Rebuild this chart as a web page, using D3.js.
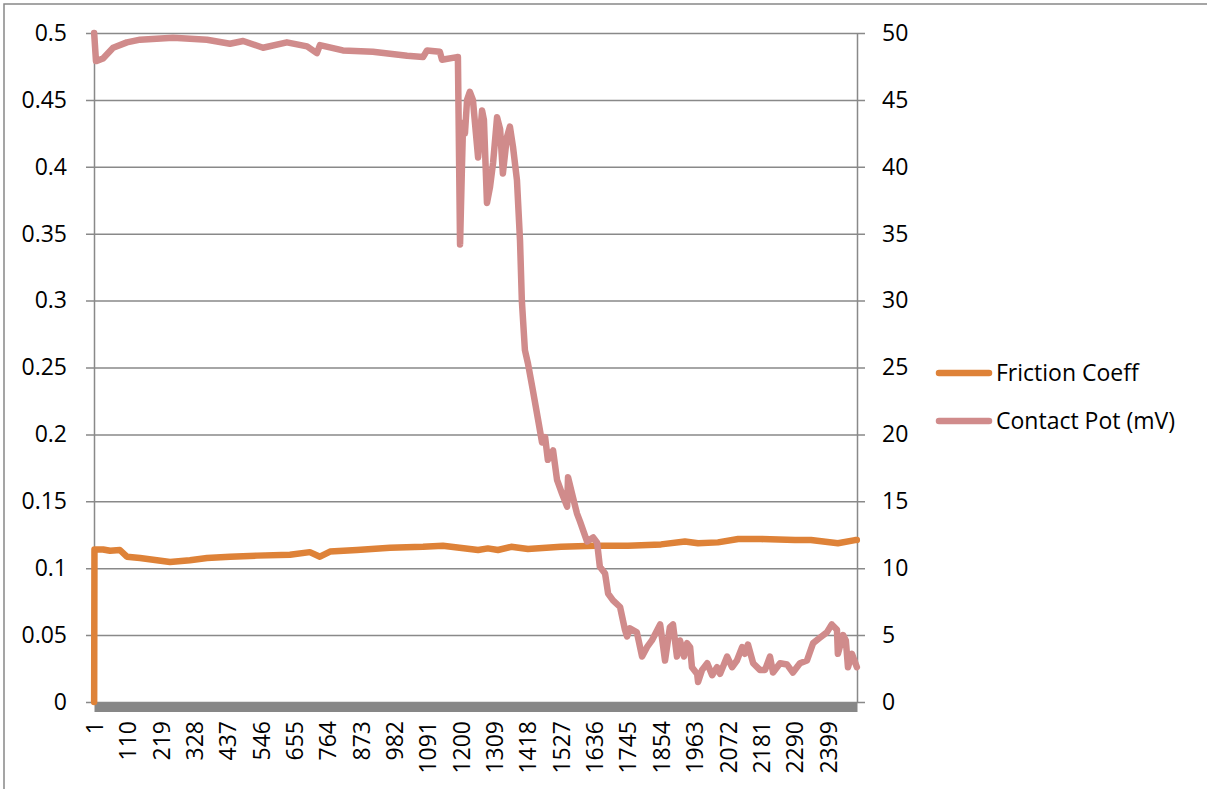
<!DOCTYPE html>
<html>
<head>
<meta charset="utf-8">
<script src="https://cdn.jsdelivr.net/npm/d3@7"></script>
<style>
  body { margin: 0; background: #fff; }
  text { font-family: "Open Sans", sans-serif; font-size: 23px; fill: #000; }
</style>
</head>
<body>
<script>
// number of samples along the x axis
var N = 2494;

// x tick labels (every 109 samples)
var xTicks = [1, 110, 219, 328, 437, 546, 655, 764, 873, 982, 1091, 1200, 1309, 1418, 1527, 1636, 1745, 1854, 1963, 2072, 2181, 2290, 2399];
var leftTicks = [0, 0.05, 0.1, 0.15, 0.2, 0.25, 0.3, 0.35, 0.4, 0.45, 0.5];
var rightTicks = [0, 5, 10, 15, 20, 25, 30, 35, 40, 45, 50];

var seriesNames = ["Friction Coeff", "Contact Pot (mV)"];

// friction coefficient (sample index, value)
var frictionIdx = [1, 2, 30, 53, 85, 108, 151, 206, 249, 314, 370, 445, 533, 641, 706, 739, 772, 860, 968, 1076, 1141, 1229, 1256, 1288, 1321, 1364, 1419, 1527, 1638, 1746, 1854, 1932, 1975, 2040, 2106, 2181, 2292, 2344, 2432, 2488, 2494];
var frictionVal = [0, 0.114, 0.114, 0.113, 0.1136, 0.1086, 0.1076, 0.106, 0.1047, 0.106, 0.1076, 0.1086, 0.1094, 0.110, 0.112, 0.1086, 0.1124, 0.1136, 0.1153, 0.116, 0.1168, 0.1143, 0.1136, 0.1148, 0.1136, 0.116, 0.1143, 0.116, 0.1168, 0.1168, 0.1178, 0.120, 0.1186, 0.1193, 0.1218, 0.1218, 0.121, 0.121, 0.1186, 0.121, 0.121];

// contact potential (mV) (sample index, value)
var potIdx = [1, 7, 30, 63, 108, 151, 259, 370, 445, 488, 553, 631, 697, 729, 739, 814, 912, 1024, 1076, 1089, 1131, 1138, 1187, 1190,
  1197, 1203, 1207, 1213, 1220, 1229, 1239, 1256, 1269, 1275, 1285, 1295, 1305, 1318, 1328, 1337, 1350, 1360, 1370, 1383, 1393,
  1399, 1409, 1419, 1435, 1452, 1465, 1475, 1484, 1501, 1514, 1530, 1547, 1550, 1566, 1579, 1589, 1612, 1632, 1645, 1654, 1671,
  1681, 1697, 1720, 1736, 1743, 1752, 1775, 1792, 1808, 1824, 1851, 1867, 1883, 1893, 1906, 1916, 1929, 1939, 1949, 1955, 1972,
  1975, 1988, 2005, 2021, 2037, 2047, 2070, 2086, 2102, 2119, 2128, 2138, 2155, 2177, 2194, 2210, 2220, 2243, 2266, 2285, 2308,
  2331, 2351, 2373, 2396, 2412, 2429, 2432, 2449, 2458, 2465, 2478, 2494];
var potVal = [50, 47.9, 48.1, 48.9, 49.3, 49.5, 49.65, 49.5, 49.2, 49.4, 48.9, 49.3, 49.0, 48.5, 49.1, 48.7, 48.6, 48.3, 48.2, 48.7, 48.6, 48.0, 48.2, 48.2,
  34.2, 39.8, 43.3, 42.5, 45.0, 45.6, 45.0, 40.7, 44.2, 43.5, 37.3, 38.5, 40.3, 43.7, 42.8, 39.5, 42.2, 43.0, 41.5, 39.0, 34.5,
  30.0, 26.3, 25.3, 23.3, 21.1, 19.4, 19.8, 18.1, 18.8, 16.6, 15.6, 14.6, 16.8, 15.3, 14.1, 13.5, 12.0, 12.3, 11.9, 10.1, 9.6,
  8.1, 7.6, 7.1, 5.4, 4.9, 5.5, 5.2, 3.4, 4.1, 4.6, 5.8, 3.1, 5.6, 5.8, 3.4, 4.6, 3.4, 4.4, 4.1, 2.6, 2.1,
  1.5, 2.4, 2.9, 2.0, 2.6, 2.1, 3.4, 2.6, 3.1, 4.1, 3.6, 4.3, 2.9, 2.4, 2.4, 3.4, 2.2, 2.9, 2.8, 2.2, 2.9,
  3.1, 4.4, 4.8, 5.2, 5.8, 5.4, 3.6, 5.0, 4.6, 2.6, 3.6, 2.6];

var colors = ["#de8238", "#d08b8b"];
var gridColor = "#898989";

var margin = { top: 33, right: 350, bottom: 87, left: 94 },
  width = 857 - margin.left,
  height = 702 - margin.top;

var svg = d3.select("body").append("svg")
  .attr("width", 1207)
  .attr("height", 789);

// chart border
svg.append("rect")
  .attr("x", 4).attr("y", 4)
  .attr("width", 1220).attr("height", 800)
  .attr("fill", "#fff")
  .attr("stroke", "#888").attr("stroke-width", 1.5);

var g = svg.append("g")
  .attr("transform", "translate(" + margin.left + "," + margin.top + ")");

var x = d3.scaleLinear().domain([0.5, N + 0.5]).range([0, width]);
var yL = d3.scaleLinear().domain([0, 0.5]).range([height, 0]);
var yR = d3.scaleLinear().domain([0, 50]).range([height, 0]);

// gridlines (with the little outside ticks on both sides)
g.append("g")
  .attr("transform", "translate(-8,0)")
  .call(d3.axisRight(yL).tickValues(leftTicks).tickSize(width + 16).tickFormat(""))
  .call(function (s) { s.select(".domain").remove(); })
  .selectAll("line")
  .attr("stroke", gridColor).attr("stroke-width", 1.5);

// left axis
var axL = g.append("g")
  .call(d3.axisLeft(yL).tickValues(leftTicks).tickSize(0).tickSizeOuter(0).tickPadding(27)
    .tickFormat(function (d) { return String(+d.toFixed(2)); }));
axL.select(".domain").attr("stroke", gridColor).attr("stroke-width", 1.5);
axL.selectAll("text").style("font-size", "23px").style("font-family", "'Open Sans', sans-serif");

// right axis
var axR = g.append("g")
  .attr("transform", "translate(" + width + ",0)")
  .call(d3.axisRight(yR).tickValues(rightTicks).tickSize(0).tickSizeOuter(0).tickPadding(25));
axR.select(".domain").attr("stroke", gridColor).attr("stroke-width", 1.5);
axR.selectAll("text").style("font-size", "23px").style("font-family", "'Open Sans', sans-serif");

// x axis: thick grey base line + rotated labels
var axX = g.append("g")
  .attr("transform", "translate(0," + height + ")")
  .call(d3.axisBottom(x).tickValues(xTicks).tickSize(0).tickSizeOuter(0).tickFormat(d3.format("d")));
axX.select(".domain")
  .attr("stroke", "#878787").attr("stroke-width", 9)
  .attr("transform", "translate(0,5)");
axX.selectAll("text")
  .style("font-size", "23px").style("font-family", "'Open Sans', sans-serif")
  .attr("text-anchor", "end")
  .attr("transform", "rotate(-90)")
  .attr("x", -19)
  .attr("y", 0)
  .attr("dy", "0.36em");

// series lines
var lineL = d3.line()
  .x(function (d) { return x(d[0]); })
  .y(function (d) { return yL(d[1]); });
var lineR = d3.line()
  .x(function (d) { return x(d[0]); })
  .y(function (d) { return yR(d[1]); });

g.append("path")
  .datum(d3.zip(frictionIdx, frictionVal))
  .attr("fill", "none")
  .attr("stroke", colors[0])
  .attr("stroke-width", 6.5)
  .attr("stroke-linejoin", "round")
  .attr("stroke-linecap", "round")
  .attr("d", lineL);

g.append("path")
  .datum(d3.zip(potIdx, potVal))
  .attr("fill", "none")
  .attr("stroke", colors[1])
  .attr("stroke-width", 6.5)
  .attr("stroke-linejoin", "round")
  .attr("stroke-linecap", "round")
  .attr("d", lineR);

// legend
var legend = svg.append("g")
  .attr("transform", "translate(937,373)");

var item = legend.selectAll("g")
  .data(seriesNames)
  .enter().append("g")
  .attr("transform", function (d, i) { return "translate(0," + i * 48 + ")"; });

item.append("line")
  .attr("x1", 2).attr("x2", 52)
  .attr("stroke", function (d, i) { return colors[i]; })
  .attr("stroke-width", 6.5)
  .attr("stroke-linecap", "round");

item.append("text")
  .attr("x", 59)
  .attr("dy", "0.35em")
  .text(function (d) { return d; });
</script>
</body>
</html>
